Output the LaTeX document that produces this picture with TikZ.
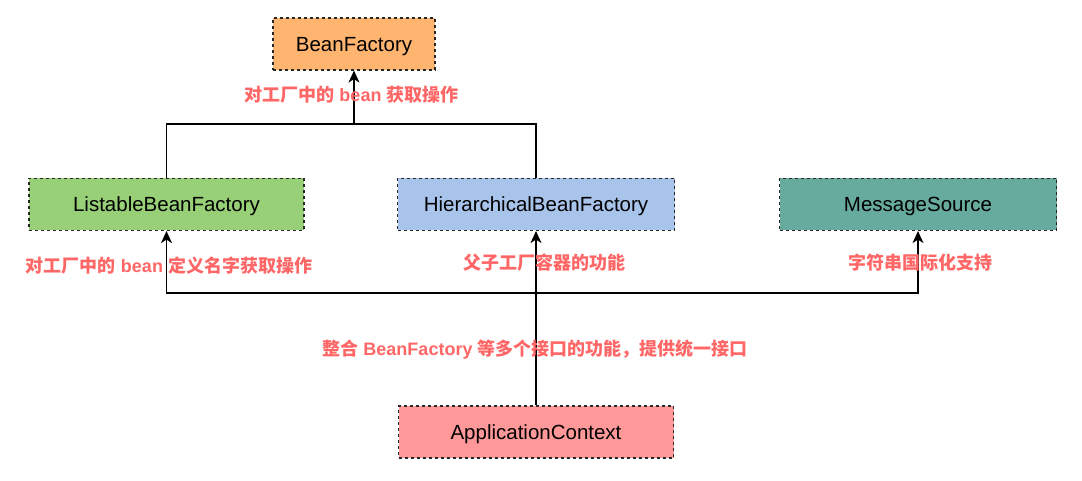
\documentclass[tikz,border=0pt]{standalone}
\usepackage{fontspec}
\setmainfont{Liberation Sans}
\newfontfamily\cjk{Noto Sans CJK SC}
\usetikzlibrary{arrows.meta}
\definecolor{bfc}{HTML}{FFB570}
\definecolor{lbc}{HTML}{97D077}
\definecolor{hbc}{HTML}{A9C4EB}
\definecolor{msc}{HTML}{67AB9F}
\definecolor{acc}{HTML}{FF9999}
\definecolor{labelred}{HTML}{FF6666}
\begin{document}
\begin{tikzpicture}[x=1pt,y=-1pt,
  box/.style={draw=black!85, dash pattern=on 3pt off 3pt, line width=1.2pt,
    minimum height=52pt, inner sep=0pt, text height=18.5pt, text depth=4pt,
    font=\fontsize{20.5}{24}\selectfont},
  lbl/.style={text=labelred, inner sep=0pt, font=\bfseries\fontsize{18}{22}\selectfont},
  conn/.style={line width=1.3pt},
  arr/.style={conn, -{Stealth[length=12pt,width=11pt,inset=3.5pt]}}]
\useasboundingbox (0,0) rectangle (1082,481);
% boxes
\node[box, fill=bfc, minimum width=162pt] (bf) at (354,44) {BeanFactory};
\node[box, fill=lbc, minimum width=275pt] (lbf) at (166.5,204.5) {ListableBeanFactory};
\node[box, fill=hbc, minimum width=277pt] (hbf) at (536,204.5) {HierarchicalBeanFactory};
\node[box, fill=msc, minimum width=277pt] (ms) at (918,204.5) {MessageSource};
\node[box, fill=acc, minimum width=275pt] (ac) at (536,432) {ApplicationContext};
% junctions
\coordinate (top) at (354,124);
\coordinate (bot) at (536,293);
% connectors
\draw[conn] (lbf.north) |- (top) -| (hbf.north);
\draw[arr] (top) -- (bf.south);
\draw[conn] (ac.north) -- (bot);
\draw[arr] (bot) -- (hbf.south);
\draw[arr] (bot) -| (lbf.south);
\draw[arr] (bot) -| (ms.south);
% labels
\node[lbl] (l1) at (351.5,95) {{\cjk 对工厂中的} bean {\cjk 获取操作}};
\node[lbl] (l2) at (169,266) {{\cjk 对工厂中的} bean {\cjk 定义名字获取操作}};
\node[lbl] (l3) at (544,263) {\cjk 父子工厂容器的功能};
\node[lbl] (l4) at (920.5,263) {\cjk 字符串国际化支持};
\node[lbl] (l5) at (535,350) {{\cjk 整合} BeanFactory {\cjk 等多个接口的功能，提供统一接口}};
\end{tikzpicture}
\end{document}
